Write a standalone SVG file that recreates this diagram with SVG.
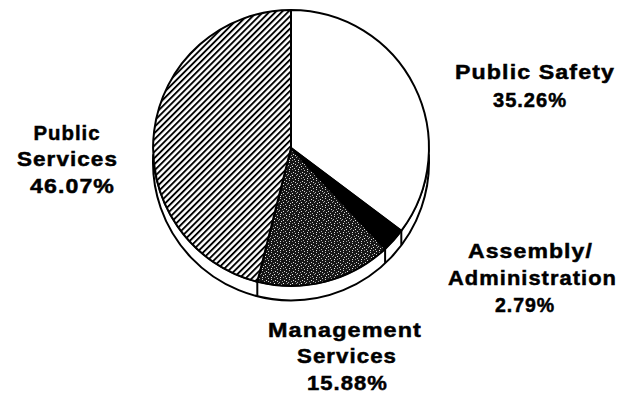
<svg xmlns="http://www.w3.org/2000/svg" width="636" height="394" viewBox="0 0 636 394">
  <style>
    .lbl { font-family: "Liberation Sans", Arial, sans-serif; font-weight: bold; font-size: 21px; letter-spacing: 1px; fill: #000; stroke: #000; stroke-width: 0.5; text-anchor: middle; }
    .edge { stroke: #000; stroke-width: 2; stroke-linejoin: round; }
    .tick { stroke: #000; stroke-width: 2; fill: none; }
  </style>
  <defs>
    <pattern id="hatch" patternUnits="userSpaceOnUse" width="4.4" height="10" patternTransform="rotate(45)">
      <rect width="4.4" height="10" fill="#fff"/>
      <rect x="0" y="0" width="1.9" height="10" fill="#000"/>
    </pattern>
    <pattern id="stipple" patternUnits="userSpaceOnUse" width="9" height="9">
      <rect width="9" height="9" fill="#161616"/>
      <rect x="1" y="0" width="1" height="1" fill="#c8c8c8"/>
      <rect x="5" y="1" width="1" height="1" fill="#e0e0e0"/>
      <rect x="3" y="2" width="1" height="1" fill="#9a9a9a"/>
      <rect x="7" y="2" width="1" height="1" fill="#d0d0d0"/>
      <rect x="0" y="3" width="1" height="1" fill="#b0b0b0"/>
      <rect x="4" y="4" width="1" height="1" fill="#f0f0f0"/>
      <rect x="8" y="4" width="1" height="1" fill="#a0a0a0"/>
      <rect x="2" y="5" width="1" height="1" fill="#d8d8d8"/>
      <rect x="6" y="6" width="1" height="1" fill="#c0c0c0"/>
      <rect x="1" y="7" width="1" height="1" fill="#e8e8e8"/>
      <rect x="4" y="7" width="1" height="1" fill="#909090"/>
      <rect x="7" y="8" width="1" height="1" fill="#d0d0d0"/>
    </pattern>
  </defs>
  <rect width="636" height="394" fill="#fff"/>

  <g id="side-wall">
    <path class="edge" fill="#fff" d="M153.2,155 A138,138 0 1 0 428.8,155 A138,138 0 0 1 153.2,155 Z"/>
  </g>

  <g id="public-safety">
    <path class="edge" fill="#fff" d="M291,148 L291,10 A138,138 0 0 1 401.3,230.9 Z"/>
    <text class="lbl" x="535" y="79" textLength="160" lengthAdjust="spacingAndGlyphs">Public Safety</text>
    <text class="lbl" x="530" y="107" textLength="74" lengthAdjust="spacingAndGlyphs">35.26%</text>
  </g>

  <g id="assembly-administration">
    <path class="edge" fill="#000" d="M291,148 L401.3,230.9 A138,138 0 0 1 385.1,248.9 Z"/>
    <text class="lbl" x="530.5" y="258" textLength="125" lengthAdjust="spacingAndGlyphs">Assembly/</text>
    <text class="lbl" x="532.5" y="285" textLength="169" lengthAdjust="spacingAndGlyphs">Administration</text>
    <text class="lbl" x="525" y="312" textLength="60" lengthAdjust="spacingAndGlyphs">2.79%</text>
  </g>

  <g id="management-services">
    <path class="edge" fill="url(#stipple)" d="M291,148 L385.1,248.9 A138,138 0 0 1 257.3,281.8 Z"/>
    <text class="lbl" x="345" y="337" textLength="154" lengthAdjust="spacingAndGlyphs">Management</text>
    <text class="lbl" x="347" y="363" textLength="100" lengthAdjust="spacingAndGlyphs">Services</text>
    <text class="lbl" x="347.5" y="390" textLength="81" lengthAdjust="spacingAndGlyphs">15.88%</text>
  </g>

  <g id="public-services">
    <path class="edge" fill="url(#hatch)" d="M291,148 L257.3,281.8 A138,138 0 0 1 291,10 Z"/>
    <text class="lbl" x="67" y="140" textLength="67" lengthAdjust="spacingAndGlyphs">Public</text>
    <text class="lbl" x="67.5" y="166" textLength="101" lengthAdjust="spacingAndGlyphs">Services</text>
    <text class="lbl" x="72.5" y="193" textLength="85" lengthAdjust="spacingAndGlyphs">46.07%</text>
  </g>

  <g id="connectors">
    <line class="tick" x1="401.3" y1="230.9" x2="401.3" y2="244.9"/>
    <line class="tick" x1="385.1" y1="248.9" x2="385.1" y2="262.9"/>
    <line class="tick" x1="257.3" y1="281.8" x2="257.3" y2="295.8"/>
  </g>
</svg>
